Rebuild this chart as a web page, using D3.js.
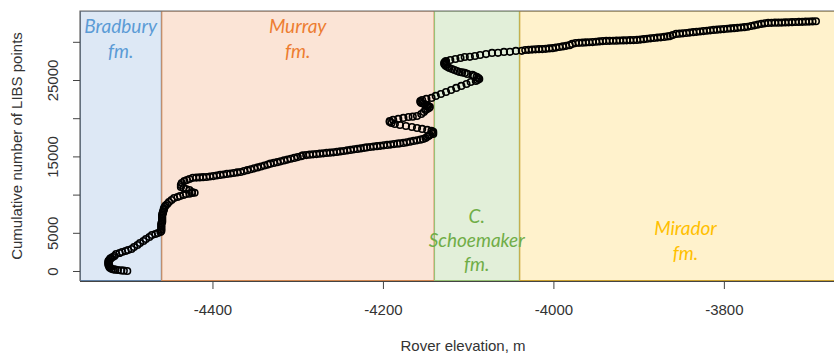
<!DOCTYPE html>
<html><head><meta charset="utf-8">
<script src="https://cdn.jsdelivr.net/npm/d3@7"></script>
<style>body{margin:0;background:#fff}svg{display:block}</style>
</head><body>
<svg id="c" width="834" height="356"></svg>
<script>
// Rover elevation (m) and cumulative number of LIBS points
const elevation = [
-4500,-4504,-4507,-4511,-4514,-4516,-4518,-4520,-4521,-4521,-4522,-4522,-4522,-4522,-4522,-4521,-4520,-4519,-4517,-4515,-4513,-4509,-4506,-4502,-4499,-4495,-4492,-4488,-4485,-4481,-4478,-4474,-4471,-4467,-4464,-4461,-4460,-4460,-4460,-4460,-4460,-4460,-4459,-4459,-4459,-4459,-4459,-4459,-4458,-4458,-4457,-4457,-4456,-4455,-4453,-4451,-4448,-4445,-4441,-4438,-4434,-4431,-4427,-4424,-4421,-4424,-4427,-4431,-4434,-4437,-4437,-4436,-4433,-4430,
-4427,-4423,-4419,-4415,-4411,-4407,-4403,-4399,-4395,-4391,-4387,-4383,-4379,-4375,-4371,-4367,-4363,-4359,-4355,-4351,-4347,-4343,-4339,-4335,-4332,-4328,-4324,-4320,-4316,-4312,-4308,-4304,-4300,-4296,-4294,-4290,-4286,-4282,-4278,-4274,-4270,-4266,-4262,-4258,-4254,-4250,-4246,-4242,-4238,-4234,-4230,-4226,-4222,-4219,-4215,-4211,-4207,-4203,-4199,-4195,-4191,-4187,-4183,-4180,-4176,-4172,-4168,-4164,-4160,-4156,-4153,-4150,-4148,-4146,-4145,
-4141,-4142,-4141,-4143,-4148,-4154,-4160,-4166,-4173,-4180,-4186,-4190,-4192,-4192,-4188,-4182,-4176,-4170,-4165,-4160,-4155,-4152,-4150,-4148,-4146,-4145,-4147,-4148,-4151,-4153,-4155,-4156,-4156,-4154,-4149,-4143,-4138,-4132,-4126,-4120,-4114,-4108,-4102,-4097,-4091,-4089,-4087,-4088,-4090,-4093,-4095,-4101,-4104,-4107,-4110,-4113,-4116,-4119,-4122,-4124,-4126,-4127,-4128,-4128,-4127,-4126,-4121,-4115,-4109,-4104,-4098,-4092,-4086,-4079,-4072,-4065,-4058,-4051,-4044,-4037,
-4033,-4029,-4025,-4021,-4017,-4013,-4009,-4005,-4001,-3997,-3993,-3989,-3985,-3981,-3978,-3974,-3970,-3966,-3962,-3958,-3954,-3950,-3946,-3942,-3938,-3934,-3930,-3926,-3922,-3918,-3914,-3910,-3906,-3902,-3898,-3894,-3890,-3886,-3882,-3878,-3874,-3870,-3866,-3863,-3860,-3856,-3852,-3848,-3844,-3840,-3836,-3832,-3828,-3824,-3820,-3816,-3812,-3808,-3804,-3800,-3796,-3792,-3788,-3784,-3780,-3776,-3772,-3768,-3764,-3760,-3756,-3752,-3748,-3744,-3740,-3736,-3732,-3728,-3724,-3720,-3716,-3712,-3708,-3704,-3700,-3696,-3692
];
const libsCount = [
0,40,80,131,170,200,262,393,520,654,790,916,1050,1178,1310,1440,1580,1702,1830,1964,2225,2356,2487,2618,2749,2880,3142,3403,3665,3927,4189,4451,4712,4843,4974,5105,5236,5430,5629,5820,6021,6220,6414,6610,6807,7000,7199,7400,7592,7790,7985,8180,8378,8570,8770,9032,9294,9556,9687,9818,9948,10079,10110,10210,10240,10341,10603,10734,10865,10996,11257,11519,11781,11912,12043,
12200,12230,12250,12280,12305,12370,12430,12500,12570,12630,12700,12760,12830,12900,12960,13080,13200,13320,13440,13560,13680,13810,13930,14050,14140,14250,14360,14470,14580,14690,14800,14910,15020,15130,15180,15230,15270,15310,15360,15400,15450,15490,15530,15580,15650,15710,15780,15850,15920,15980,16050,16120,16180,16230,16290,16340,16390,16450,16500,16550,16610,16660,16710,16760,16840,16930,17020,17100,17190,17280,17400,17560,17700,17830,17930,
18060,18200,18330,18460,18590,18720,18850,18980,19110,19240,19370,19500,19630,19770,19900,20030,20160,20200,20290,20550,20810,21080,21200,21340,21470,21600,21730,21860,21920,21990,22120,22250,22380,22520,22650,22910,23170,23430,23690,23960,24220,24480,24740,24870,25000,25130,25260,25400,25530,25660,25790,25920,25990,26050,26180,26310,26440,26570,26700,26830,26970,27100,27230,27360,27490,27620,27750,27880,28010,28030,28140,28270,28400,28540,28560,28670,28690,28800,28820,28930,
28950,28980,29010,29030,29050,29080,29130,29170,29240,29320,29400,29480,29560,29720,29840,29870,29890,29920,29940,29970,30010,30050,30100,30120,30130,30140,30150,30170,30180,30200,30210,30230,30240,30290,30340,30400,30450,30500,30550,30590,30640,30700,30750,30890,31030,31070,31110,31150,31210,31260,31300,31350,31400,31450,31500,31550,31590,31630,31670,31710,31750,31790,31830,31870,31910,31970,32070,32160,32260,32350,32420,32470,32490,32500,32510,32520,32540,32550,32570,32590,32600,32620,32630,32650,32670,32690,32720
];
const xTicks = [-4400, -4200, -4000, -3800];
const yTicks = [0, 5000, 10000, 15000, 20000, 25000, 30000];
const yTickLabels = ["0", "5000", "", "15000", "", "25000", ""];
const formationStarts = [-4560, -4460, -4140, -4040];
const formationEnds = [-4460, -4140, -4040, -3650];
const formationLabels = [["Bradbury", "fm."], ["Murray", "fm."], ["C.", "Schoemaker", "fm."], ["Mirador", "fm."]];
const formationFill = ["#dde8f5", "#fbe4d6", "#e2efd9", "#fff2cc"];
const formationEdge = ["#5f7fa3", "#d08650", "#94bf72", "#c9a030"];
const formationText = ["#5b9bd5", "#ed7d31", "#70ad47", "#ffc000"];
const labelBaselines = [[33, 58], [33, 58], [223, 247, 271], [235, 260]];

const svg = d3.select("#c");
const L = 80, R = 846, T = 11, B = 281;
const x = d3.scaleLinear().domain([-4555.4, -3656.7]).range([L, R]);
const y = d3.scaleLinear().domain([-1309, 34032]).range([B, T]);

const clipId = "plotclip";
svg.append("defs").append("clipPath").attr("id", clipId)
  .append("rect").attr("x", L).attr("y", T).attr("width", R - L).attr("height", B - T);

const g = svg.append("g").attr("clip-path", `url(#${clipId})`);
formationLabels.forEach((lab, i) => {
  const x0 = Math.max(L, x(formationStarts[i])), x1 = Math.min(R, x(formationEnds[i]));
  g.append("rect").attr("x", x0 + 0.5).attr("y", T).attr("width", x1 - x0 - 0.5).attr("height", B - T - 0.5)
    .attr("fill", formationFill[i]).attr("stroke", formationEdge[i]).attr("stroke-width", 1);
});
formationLabels.forEach((lab, i) => {
  const x0 = Math.max(L, x(formationStarts[i])), x1 = x(formationEnds[i]);
  const cx = (x0 + x1) / 2;
  lab.forEach((s, j) => {
    g.append("text").attr("x", cx).attr("y", labelBaselines[i][j]).attr("text-anchor", "middle")
      .attr("font-family", "Lato, 'Open Sans', sans-serif").attr("font-style", "italic")
      .attr("font-size", 19).attr("fill", formationText[i]).text(s);
  });
});

g.append("g").selectAll("circle").data(elevation.map((e, i) => [e, libsCount[i]]))
  .join("circle").attr("cx", d => x(d[0])).attr("cy", d => y(d[1])).attr("r", 3.3)
  .attr("fill", "none").attr("stroke", "#000").attr("stroke-width", 1.6);

// box
svg.append("path").attr("d", `M${L},${B}V${T}H${R}`).attr("fill", "none").attr("stroke", "#666").attr("stroke-width", 1.2);
svg.append("line").attr("x1", L).attr("x2", R).attr("y1", B + 0.5).attr("y2", B + 0.5).attr("stroke", "#444").attr("stroke-width", 1.2);

const font = "'Liberation Sans', Arial, sans-serif";
const xAxis = d3.axisBottom(x).tickValues(xTicks).tickSize(8).tickFormat(d3.format("d"));
const xg = svg.append("g").attr("transform", `translate(0,${B})`).call(xAxis);
xg.select(".domain").remove();
xg.selectAll(".tick line").attr("stroke", "#444");
xg.selectAll(".tick text").attr("font-family", font).attr("font-size", 15).attr("fill", "#333").attr("dy", null).attr("y", 34);
xg.selectAll(".tick text").text(d => String(d).replace("\u2212", "-"));

const yAxis = d3.axisLeft(y).tickValues(yTicks).tickSize(7).tickFormat((d, i) => yTickLabels[i]);
const yg = svg.append("g").attr("transform", `translate(${L},0)`).call(yAxis);
yg.select(".domain").remove();
yg.selectAll(".tick line").attr("stroke", "#444");
yg.selectAll(".tick text").attr("font-family", font).attr("font-size", 15).attr("fill", "#333")
  .attr("x", null).attr("dy", null).attr("text-anchor", "middle")
  .attr("transform", "translate(-22,0) rotate(-90)");

svg.append("text").attr("transform", `translate(22,${(T + B) / 2}) rotate(-90)`)
  .attr("text-anchor", "middle").attr("font-family", font).attr("font-size", 15).attr("fill", "#333")
  .text("Cumulative number of LIBS points");
svg.append("text").attr("x", (L + R) / 2).attr("y", 351).attr("text-anchor", "middle")
  .attr("font-family", font).attr("font-size", 15).attr("fill", "#333").text("Rover elevation, m");
</script>
</body></html>
